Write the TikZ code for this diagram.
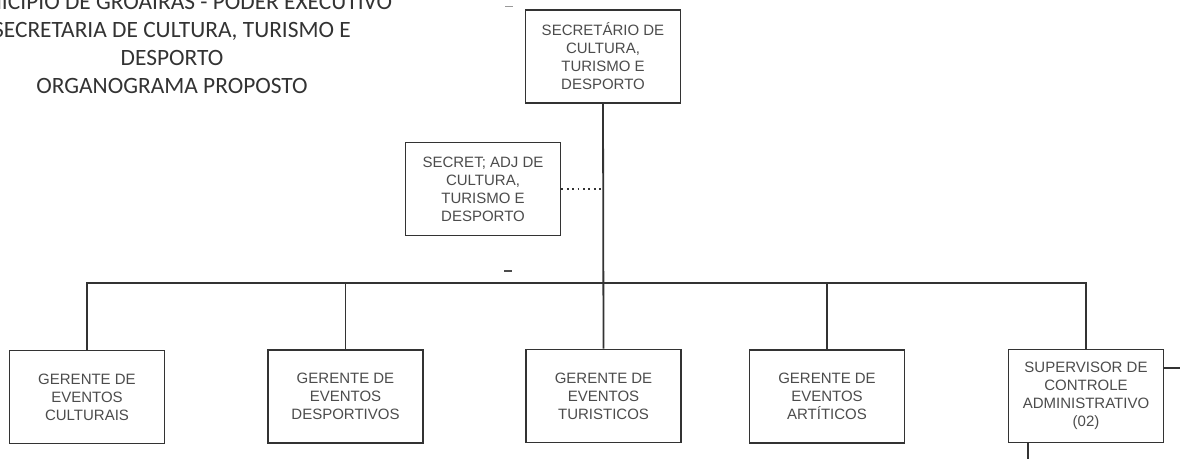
\documentclass[tikz,border=0pt]{standalone}
\usepackage{fontspec}
\setmainfont{Liberation Sans}
\newfontfamily\titlefont{Carlito}
\usetikzlibrary{calc}

\tikzset{
  cargo/.style={draw=black!80, line width=1.8pt, fill=white, minimum width=155pt,
    minimum height=93pt, align=center, inner sep=0pt, text=black!70,
    font=\fontsize{15}{18}\selectfont},
  linha/.style={draw=black!80, line width=1.8pt},
  titulo/.style={align=center, inner sep=0pt, text=black!80,
    font=\titlefont\fontsize{23.4}{28}\selectfont},
}

\begin{document}
\begin{tikzpicture}[x=1pt,y=-1pt]
	%%%%% START %%%%%
	\useasboundingbox (0,0) rectangle (1180,459);
	
	\node[titulo, anchor=base] (titulo) at (172,93) {MUNICIPIO DE GROAIRAS - PODER EXECUTIVO\\SECRETARIA DE CULTURA, TURISMO E\\DESPORTO\\ORGANOGRAMA PROPOSTO};
	
	\node[cargo] (secretario) at (603,56.5) {SECRET\'ARIO DE\\CULTURA,\\TURISMO E\\DESPORTO};
	\node[cargo] (adjunto) at (483,189) {SECRET; ADJ DE\\CULTURA,\\TURISMO E\\DESPORTO};
	
	\node[cargo] (gerCult) at (87,397) {GERENTE DE\\EVENTOS\\CULTURAIS};
	\node[cargo] (gerDesp) at (345.5,396.5) {GERENTE DE\\EVENTOS\\DESPORTIVOS};
	\node[cargo] (gerTur) at (603.5,396) {GERENTE DE\\EVENTOS\\TURISTICOS};
	\node[cargo] (gerArt) at (827,396.5) {GERENTE DE\\EVENTOS\\ART\'ITICOS};
	\node[cargo] (supervisor) at (1086,396) {SUPERVISOR DE\\CONTROLE\\ADMINISTRATIVO\\(02)};
	
	\coordinate (barra) at (603,283);
	\coordinate (dirSup) at (1180,368);
	\coordinate (baixoSup) at (1028,459);
	
	\draw[linha] (secretario.south) -- (gerTur.north);
	\draw[linha, dash pattern=on 1.8pt off 3.6pt] (adjunto.east) -- (adjunto.east -| secretario.south);
	\draw[linha] (gerCult.north) |- (barra) -| (supervisor.north);
	\foreach \n in {gerDesp,gerArt}
		\draw[linha] (\n.north) -- (\n.north |- barra);
	
	\draw[linha] (supervisor.east |- dirSup) -- (dirSup);
	\draw[linha] (baixoSup |- supervisor.south) -- (baixoSup);
	
	% marcas soltas
	\draw[black!70, line width=1.4pt] (504,271) -- (512,271);
	\draw[black!40, line width=0.8pt] (505,6) -- (513,6);
	
	%%%%% END %%%%%
\end{tikzpicture}
\end{document}
